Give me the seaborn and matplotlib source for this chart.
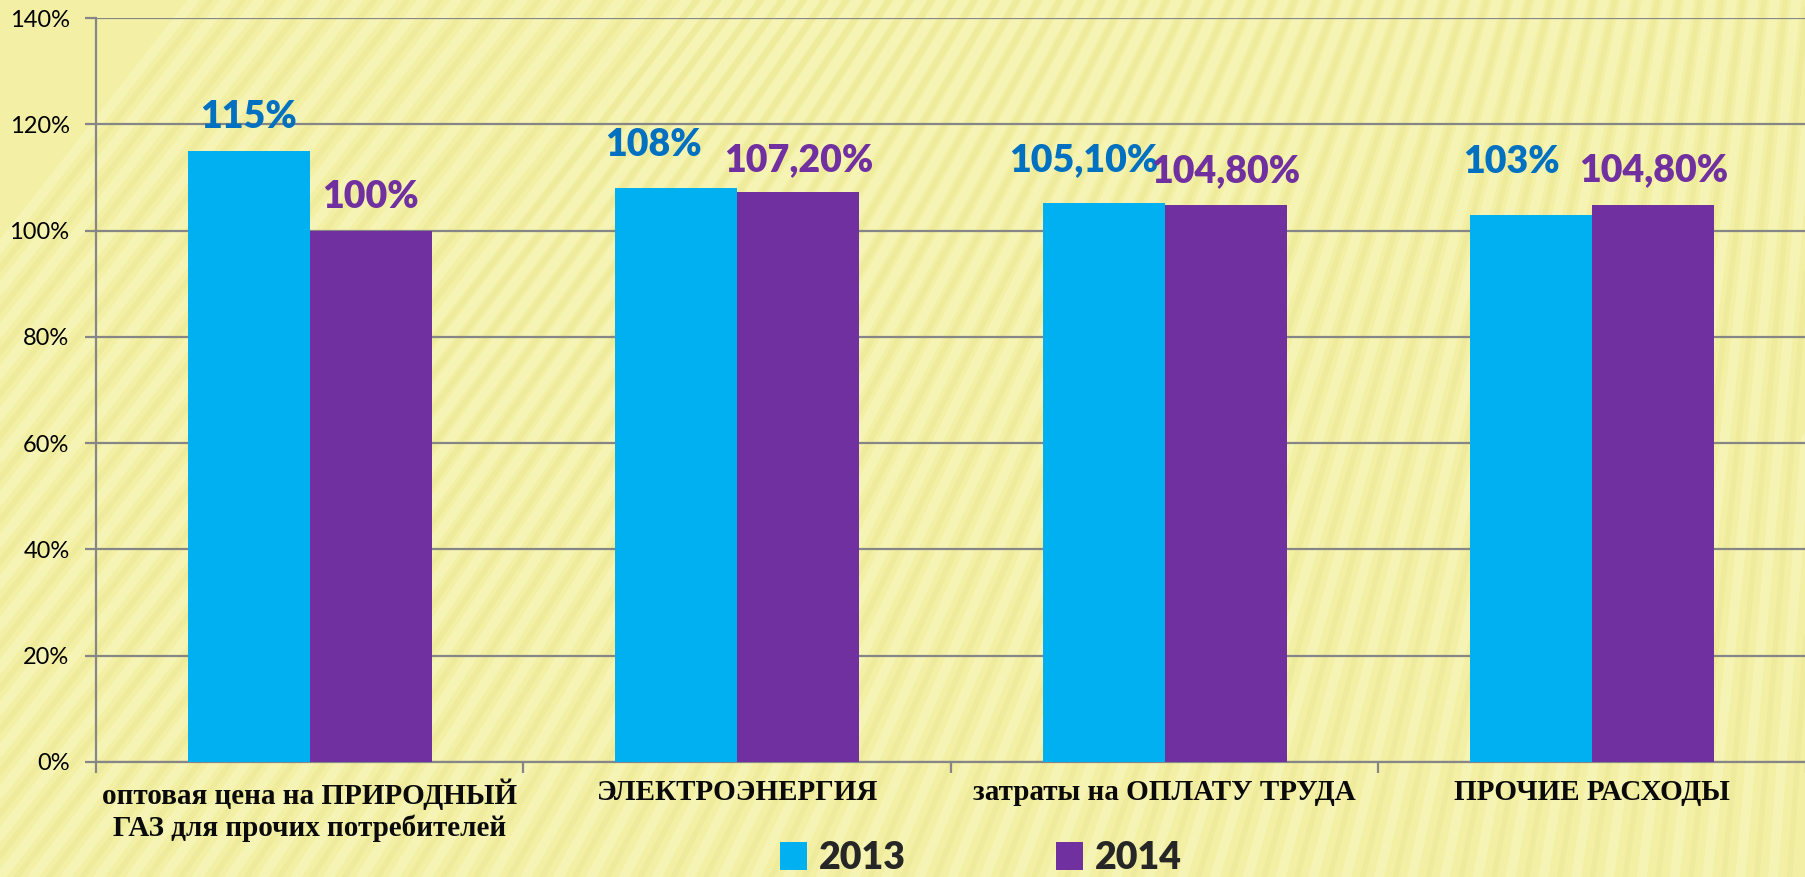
import numpy as np
import pandas as pd
import matplotlib
matplotlib.use("Agg")
import matplotlib.pyplot as plt
from matplotlib.lines import Line2D
from matplotlib.ticker import FuncFormatter, FixedLocator
import seaborn as sns

categories = [
    "оптовая цена на ПРИРОДНЫЙ\nГАЗ для прочих потребителей",
    "ЭЛЕКТРОЭНЕРГИЯ",
    "затраты на ОПЛАТУ ТРУДА",
    "ПРОЧИЕ РАСХОДЫ",
]
years = ["2013", "2014"]
values_2013 = [1.15, 1.08, 1.051, 1.03]
values_2014 = [1.00, 1.072, 1.048, 1.048]
labels_2013 = ["115%", "108%", "105,10%", "103%"]
labels_2014 = ["100%", "107,20%", "104,80%", "104,80%"]

bar_colors = {"2013": "#00B0F0", "2014": "#7030A0"}
label_colors = {"2013": "#0070C0", "2014": "#7030A0"}
# label nudges (pixels) as placed on the slide: (dx, dy above bar top)
nudge_2013 = [(0, 23), (-23, 32), (-20, 32), (-20, 42)]
nudge_2014 = [(0, 23), (0, 21), (0, 23), (0, 24)]

df = pd.DataFrame({
    "category": categories * 2,
    "year": [years[0]] * 4 + [years[1]] * 4,
    "value": values_2013 + values_2014,
})

sns.set_theme(style="white")
plt.rcParams["font.family"] = ["Lato", "DejaVu Sans"]

fig = plt.figure(figsize=(18.06, 8.77), dpi=100)
fig.patch.set_facecolor("#F3F0A6")

# stripy slide background
for i in range(-30, 140):
    x0 = i / 110.0
    slant = 0.35 * (1 - min(max(x0, 0), 1)) + 0.03
    col = "#FFFFD6" if i % 2 == 0 else "#E4E08A"
    fig.add_artist(Line2D([x0, x0 + slant], [0, 1], transform=fig.transFigure,
                          color=col, lw=7 if i % 2 == 0 else 4, alpha=0.3, zorder=-5))

ax = fig.add_axes([96 / 1806, 1 - 762 / 877, 1 - 96 / 1806, (762 - 18) / 877])
ax.set_facecolor("none")

sns.barplot(data=df, x="category", y="value", hue="year", order=categories,
            hue_order=years, palette=bar_colors, width=0.571, saturation=1,
            linewidth=0, ax=ax, zorder=3, legend=True)

ax.set_ylim(0, 1.4)
ax.set_xlim(-0.5, 3.5)
ax.set_yticks(np.arange(0, 1.41, 0.2))
ax.yaxis.set_major_formatter(FuncFormatter(lambda v, p: f"{v * 100:.0f}%"))
ax.yaxis.grid(True, color="#868686", lw=1.6, zorder=0)
ax.set_axisbelow(True)
ax.set_xlabel("")
ax.set_ylabel("")

for s in ["top", "right"]:
    ax.spines[s].set_visible(False)
for s in ["left", "bottom"]:
    ax.spines[s].set_color("#868686")
    ax.spines[s].set_linewidth(1.6)

ax.tick_params(axis="y", length=8, width=1.6, color="#868686", left=True,
               labelsize=17, labelcolor="black", pad=11)
ax.tick_params(axis="x", which="major", length=0, pad=12)
ax.xaxis.set_minor_locator(FixedLocator([-0.5, 0.5, 1.5, 2.5, 3.5]))
ax.tick_params(axis="x", which="minor", length=8, width=1.6, color="#868686", bottom=True)
for t in ax.get_xticklabels():
    t.set_fontfamily(["Liberation Serif", "DejaVu Serif"])
    t.set_fontweight("bold")
    t.set_fontsize(21)
    t.set_linespacing(1.2)
    t.set_color("#0A0A0A")

# data labels
for cont, yr, labs, nud in zip(ax.containers, years,
                               [labels_2013, labels_2014], [nudge_2013, nudge_2014]):
    for bar, lab, (dx, dy) in zip(cont, labs, nud):
        ax.annotate(lab, (bar.get_x() + bar.get_width() / 2, bar.get_height()),
                    xytext=(dx, dy), textcoords="offset pixels", ha="center",
                    va="baseline", fontsize=27, fontweight="heavy",
                    color=label_colors[yr], zorder=5)

handles, texts = ax.get_legend_handles_labels()
ax.get_legend().remove()
leg = fig.legend(handles, texts, loc="lower center", bbox_to_anchor=(0.543, 0.0),
                 ncol=2, frameon=False, prop={"weight": "heavy", "size": 27},
                 handlelength=0.74, handleheight=0.74, handletextpad=0.3,
                 columnspacing=4.0, borderaxespad=0, borderpad=0.05)

fig.savefig("out.png", dpi=100, facecolor=fig.get_facecolor())
